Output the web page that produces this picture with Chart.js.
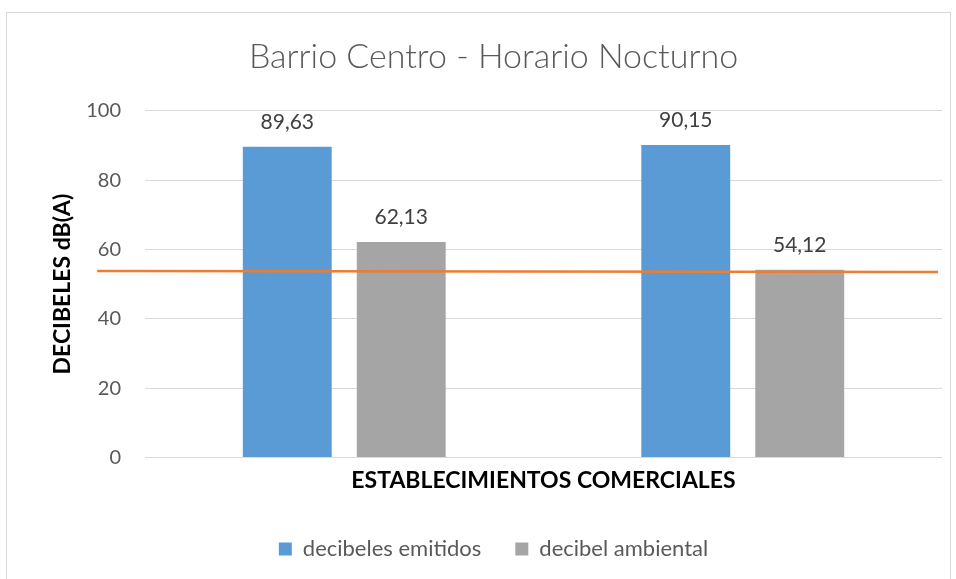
<!DOCTYPE html>
<html>
<head>
<meta charset="utf-8">
<script src="https://cdn.jsdelivr.net/npm/chart.js@4.4.1/dist/chart.umd.min.js"></script>
<style>
  html, body { margin: 0; padding: 0; background: #fff; }
  #wrap { position: relative; width: 956px; height: 579px; }
  #frame { position: absolute; left: 6px; top: 12px; width: 943px; height: 600px;
           border: 1px solid #d9d9d9; pointer-events: none; }
</style>
</head>
<body>
<div id="wrap">
  <canvas id="canvas" width="956" height="579"></canvas>
  <div id="frame"></div>
</div>
<script>
// Data
const categories = ["Establecimiento 1", "Establecimiento 2"];
const emitidos = [89.63, 90.15];
const ambiental = [62.13, 54.12];
// orange reference line drawn across the plot (x in 0..1 of the plot width)
const limiteX = [-0.06, 0.995];
const limiteY = [53.8, 53.5];

const FONT = "Lato, 'Open Sans', sans-serif";

// value labels above each bar, comma as decimal mark
const barLabels = {
  id: "barLabels",
  afterDatasetsDraw(chart) {
    const ctx = chart.ctx;
    ctx.save();
    ctx.font = "21px " + FONT;
    ctx.fillStyle = "#404040";
    ctx.textAlign = "center";
    ctx.textBaseline = "middle";
    chart.data.datasets.forEach((ds, i) => {
      if (ds.type === "line") return;
      chart.getDatasetMeta(i).data.forEach((bar, j) => {
        ctx.fillText(ds.data[j].toFixed(2).replace(".", ","), bar.x, bar.y - 25);
      });
    });
    ctx.restore();
  }
};

new Chart("canvas", {
  type: "bar",
  data: {
    labels: categories,
    datasets: [
      {
        type: "line",
        label: "limite",
        xAxisID: "x2",
        data: limiteX.map((x, i) => ({x: x, y: limiteY[i]})),
        borderColor: "#ED7D31",
        borderWidth: 2.5,
        pointRadius: 0,
        clip: false,
        order: 0
      },
      {
        label: "decibeles emitidos",
        xAxisID: "x",
        data: emitidos,
        backgroundColor: "#5B9BD5",
        categoryPercentage: 1.144,
        barPercentage: 0.78,
        order: 1
      },
      {
        label: "decibel ambiental",
        xAxisID: "x",
        data: ambiental,
        backgroundColor: "#A5A5A5",
        categoryPercentage: 1.144,
        barPercentage: 0.78,
        order: 1
      }
    ]
  },
  options: {
    responsive: false,
    animation: false,
    layout: { padding: { left: 45, right: 14, top: 0, bottom: 9 } },
    plugins: {
      title: {
        display: true,
        text: "Barrio Centro - Horario Nocturno",
        color: "#595959",
        font: { family: FONT, size: 34, weight: 300 },
        padding: { top: 37, bottom: 33 }
      },
      legend: {
        position: "bottom",
        labels: {
          color: "#595959",
          font: { family: FONT, size: 22 },
          boxWidth: 13,
          boxHeight: 13,
          padding: 34,
          filter: (item) => item.text !== "limite"
        }
      },
      tooltip: { enabled: false }
    },
    scales: {
      x: {
        type: "category",
        grid: { display: false, drawTicks: false },
        border: { display: false },
        ticks: { display: false },
        title: {
          display: true,
          text: "ESTABLECIMIENTOS COMERCIALES",
          color: "#000",
          font: { family: FONT, size: 23, weight: "bold" },
          padding: { top: 9, bottom: 10 }
        }
      },
      x2: {
        type: "linear",
        display: false,
        offset: false,
        grid: { offset: false },
        min: 0,
        max: 1
      },
      y: {
        min: 0,
        max: 100,
        ticks: {
          stepSize: 20,
          color: "#595959",
          font: { family: FONT, size: 20 },
          padding: 24
        },
        grid: { color: "#D9D9D9", lineWidth: 1, drawTicks: false },
        border: { display: false },
        title: {
          display: true,
          text: "DECIBELES dB(A)",
          color: "#000",
          font: { family: FONT, size: 23, weight: "bold" },
          padding: { top: 4, bottom: 0 }
        },
        afterFit(scale) { scale.width = 100; }
      }
    }
  },
  plugins: [barLabels]
});
</script>
</body>
</html>
